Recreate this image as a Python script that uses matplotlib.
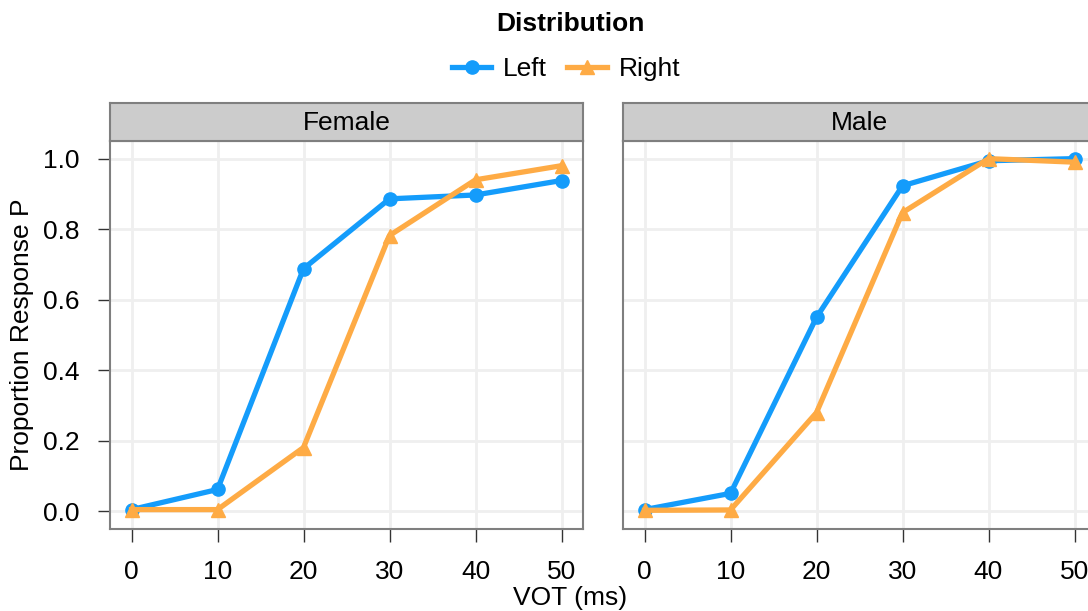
import matplotlib.pyplot as plt
from matplotlib.lines import Line2D

plt.rcParams['font.family'] = ['Liberation Sans', 'DejaVu Sans']

vot = [0, 10, 20, 30, 40, 50]
panels = ["Female", "Male"]
female_left = [0.005, 0.062, 0.688, 0.886, 0.897, 0.938]
female_right = [0.005, 0.005, 0.181, 0.782, 0.940, 0.980]
male_left = [0.005, 0.051, 0.550, 0.923, 0.994, 1.000]
male_right = [0.003, 0.004, 0.280, 0.847, 1.000, 0.990]
series = {"Female": (female_left, female_right), "Male": (male_left, male_right)}

blue = "#149CFB"
orange = "#FEAB45"
W, H = 1088, 611
fs = 19

fig = plt.figure(figsize=(W / 100, H / 100), dpi=100)


def px(l, t, r, b):
    return [l / W, 1 - b / H, (r - l) / W, (b - t) / H]


lefts = [110, 623]
for i, name in enumerate(panels):
    l = lefts[i]
    ax = fig.add_axes(px(l, 141, l + 473, 529))
    left, right = series[name]
    ax.plot(vot, left, color=blue, lw=3.8, marker='o', ms=9.5, zorder=3)
    ax.plot(vot, right, color=orange, lw=3.8, marker='^', ms=10.5, zorder=3)
    ax.set_xlim(-2.5, 52.5)
    ax.set_ylim(-0.05, 1.05)
    ax.set_xticks(vot)
    ax.set_yticks([0, 0.2, 0.4, 0.6, 0.8, 1.0])
    ax.set_yticklabels(["0.0", "0.2", "0.4", "0.6", "0.8", "1.0"])
    ax.grid(True, color="#EFEFEF", lw=2.0)
    ax.set_axisbelow(True)
    for s in ax.spines.values():
        s.set_color("#7F7F7F")
        s.set_linewidth(1.5)
    ax.tick_params(axis='both', length=9, width=1.0, color="#333333",
                   labelsize=fs, labelcolor="black")
    ax.tick_params(axis='y', pad=13)
    ax.tick_params(axis='x', pad=13)
    if i > 0:
        ax.tick_params(axis='y', left=False, labelleft=False)

    # facet strip
    sax = fig.add_axes(px(l, 103, l + 473, 141))
    sax.set_facecolor("#CCCCCC")
    sax.set_xticks([])
    sax.set_yticks([])
    for s in sax.spines.values():
        s.set_color("#7F7F7F")
        s.set_linewidth(1.5)
    sax.text(0.5, 0.47, name, transform=sax.transAxes, ha='center', va='center',
             fontsize=fs)

fig.text(570 / W, 1 - 598 / H, "VOT (ms)", ha='center', va='center', fontsize=fs)
fig.text(22 / W, 1 - 335 / H, "Proportion Response P", ha='center', va='center',
         rotation=90, fontsize=fs)

# legend
fig.text(570 / W, 1 - 24 / H, "Distribution", ha='center', va='center',
         fontsize=fs, fontweight='bold')
handles = [Line2D([], [], color=blue, lw=3.8, marker='o', ms=9.5),
           Line2D([], [], color=orange, lw=3.8, marker='^', ms=10.5)]
leg = fig.legend(handles, ["Left", "Right"], loc='center', ncol=2,
                 bbox_to_anchor=(566 / W, 1 - 69 / H), frameon=False,
                 fontsize=fs, handlelength=1.5, borderpad=0,
                 columnspacing=0.75, handletextpad=0.45)

fig.savefig("out.png", dpi=100)
